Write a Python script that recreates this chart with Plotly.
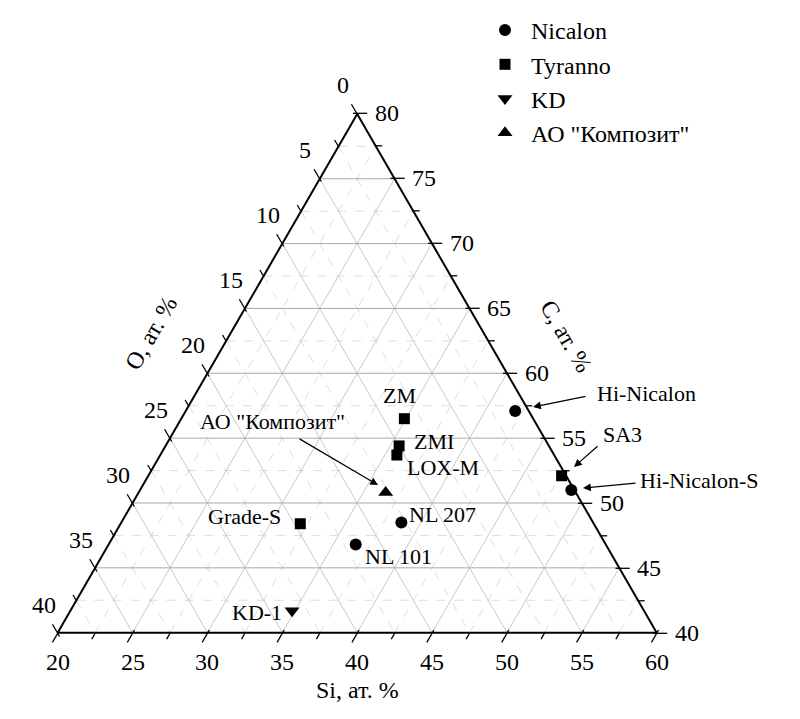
import plotly.graph_objects as go

# ---------------- data (at.%) ----------------
nicalon_names = ["Hi-Nicalon", "Hi-Nicalon-S", "NL 207", "NL 101"]
nicalon_C = [57.1, 51.0, 48.5, 46.8]
nicalon_Si = [42.0, 48.8, 38.7, 36.5]
nicalon_O = [0.9, 0.2, 12.8, 16.7]

tyranno_names = ["ZM", "ZMI", "LOX-M", "SA3", "Grade-S"]
tyranno_C = [56.5, 54.4, 53.7, 52.1, 48.4]
tyranno_Si = [34.9, 35.6, 35.8, 47.6, 32.0]
tyranno_O = [8.6, 10.0, 10.5, 0.3, 19.6]

kd_names = ["KD-1"]
kd_C = [41.7]
kd_Si = [34.8]
kd_O = [23.5]

ao_names = ['АО "Композит"']
ao_C = [50.8]
ao_Si = [36.5]
ao_O = [12.7]

C_ticks = [40, 45, 50, 55, 60, 65, 70, 75, 80]
O_ticks = [0, 5, 10, 15, 20, 25, 30, 35, 40]
Si_ticks = [20, 25, 30, 35, 40, 45, 50, 55, 60]

C_MIN, O_MIN, SI_MIN, SPAN = 40, 0, 20, 40

# ---------------- layout geometry (screen px; page body has an 8px margin) ----------------
OFF = 8
W, H = 800 - OFF, 719 - OFF
FONT = "Liberation Serif"
TOP = (356.7, 113.3)
BL = (57.7, 633.3)
BR = (656.7, 633.3)


def P(x, y):
    """screen px -> paper coords"""
    return (x - OFF) / W, 1 - (y - OFF) / H


def tern_px(C, O, Si):
    """ternary composition -> screen px (same mapping as the ternary subplot)"""
    wt, wb, wr = (C - C_MIN) / SPAN, (O - O_MIN) / SPAN, (Si - SI_MIN) / SPAN
    return (wt * TOP[0] + wb * BL[0] + wr * BR[0], wt * TOP[1] + wb * BL[1] + wr * BR[1])


fig = go.Figure()

# ---------------- grid lines ----------------
def grid_lines(step_vals, families):
    a, b, c = [], [], []
    for v in step_vals:
        if "C" in families:
            C = C_MIN + v
            a += [C, C, None]; c += [SI_MIN, 100 - C, None]; b += [100 - C - SI_MIN, 0, None]
        if "O" in families:
            O = O_MIN + v
            a += [100 - O - SI_MIN, C_MIN, None]; b += [O, O, None]; c += [SI_MIN, 100 - O - C_MIN, None]
        if "Si" in families:
            S = SI_MIN + v
            a += [C_MIN, 100 - S, None]; c += [S, S, None]; b += [100 - S - C_MIN, 0, None]
    return a, b, c

major = [5, 10, 15, 20, 25, 30, 35]
minor = [2.5, 7.5, 12.5, 17.5, 22.5, 27.5, 32.5, 37.5]

for vals, fam, col, dash in [(minor, ("C", "O", "Si"), "#dddddd", "dash"),
                             (major, ("O", "Si"), "#c8c8c8", "solid"),
                             (major, ("C",), "#a8a8a8", "solid")]:
    a, b, c = grid_lines(vals, fam)
    fig.add_trace(go.Scatterternary(a=a, b=b, c=c, mode="lines", showlegend=False, hoverinfo="skip",
                                    line=dict(color=col, width=1, dash=dash)))

# ---------------- data series ----------------
def series(name, names, C, Si, O, symbol, size):
    fig.add_trace(go.Scatterternary(a=C, b=O, c=Si, mode="markers", name="\u00a0" + name, text=names,
                                    legendgroup=name, cliponaxis=False,
                                    marker=dict(symbol=symbol, size=size, color="black")))

series("Nicalon", nicalon_names, nicalon_C, nicalon_Si, nicalon_O, "circle", 12)
series("Tyranno", tyranno_names, tyranno_C, tyranno_Si, tyranno_O, "square", 11)
series("KD", kd_names, kd_C, kd_Si, kd_O, "triangle-down", 13)
series('АО "Композит"', ao_names, ao_C, ao_Si, ao_O, "triangle-up", 13)

# ---------------- tick marks (shapes) & tick labels ----------------
shapes = []
annotations = []
tick_font = dict(family=FONT, size=24, color="black")


def seg(p0, p1):
    x0, y0 = P(*p0)
    x1, y1 = P(*p1)
    shapes.append(dict(type="line", xref="paper", yref="paper", x0=x0, y0=y0, x1=x1, y1=y1,
                       line=dict(color="black", width=1.3)))


for k in range(17):
    v = k * 2.5
    is_major = (k % 2 == 0)
    t_out = 0.7 if is_major else 0.45
    t_in = 0.25 if is_major else 0.0
    C = C_MIN + v     # right edge, horizontal outward
    seg(tern_px(C, t_in, 100 - C - t_in), tern_px(C, -t_out, 100 - C + t_out))
    O = O_MIN + v     # left edge, along constant O outward
    seg(tern_px(100 - O - SI_MIN - t_in, O, SI_MIN + t_in), tern_px(100 - O - SI_MIN + t_out, O, SI_MIN - t_out))
    S = SI_MIN + v    # bottom edge, along constant Si outward
    seg(tern_px(C_MIN + t_in, 100 - S - C_MIN - t_in, S), tern_px(C_MIN - t_out, 100 - S - C_MIN + t_out, S))


def tick_label(text, sx, sy):
    px, py = P(sx, sy)
    annotations.append(dict(x=px, y=py, xref="paper", yref="paper", text=text, showarrow=False,
                            font=tick_font, xanchor="center", yanchor="middle"))


for v in C_ticks:
    sx, sy = tern_px(v, 0, 100 - v)
    tick_label(str(v), sx + 30, sy)
for v in O_ticks:
    sx, sy = tern_px(80 - v, v, 20)
    tick_label(str(v), sx - 14, sy - 28)
for v in Si_ticks:
    sx, sy = tern_px(40, 60 - v, v)
    tick_label(str(v), sx, sy + 29)

# ---------------- point labels, arrows, axis titles ----------------
lab_font = dict(family=FONT, size=22, color="black")
labels = [
    ("ZM", 399, 395), ("ZMI", 434, 441), ("LOX-M", 443, 467), ("NL 207", 443, 515),
    ("NL 101", 398, 556), ("Grade-S", 244.5, 516), ("KD-1", 257, 612),
    ("Hi-Nicalon", 646, 394), ("SA3", 622, 435), ("Hi-Nicalon-S", 699, 480),
    ('АО "Композит"', 272, 421.5),
]
for t, x, y in labels:
    px, py = P(x, y)
    annotations.append(dict(x=px, y=py, xref="paper", yref="paper", text=t, showarrow=False,
                            font=lab_font, xanchor="center", yanchor="middle"))

arrows = [((587, 396), (533, 407)), ((599, 445), (574, 467)),
          ((637, 483), (583, 488)), ((298, 438), (378, 485))]
for (tx, ty), (hx, hy) in arrows:
    px, py = P(hx, hy)
    annotations.append(dict(x=px, y=py, xref="paper", yref="paper", text="", showarrow=True,
                            ax=tx - hx, ay=ty - hy, arrowhead=2, arrowsize=1.3, arrowwidth=1.2,
                            arrowcolor="black"))

title_font = dict(family=FONT, size=24, color="black")
for t, x, y, ang in [("O, ат. %", 151, 333, -60), ("C, ат. %", 566, 336, 60), ("Si, ат. %", 357, 690, 0)]:
    px, py = P(x, y)
    annotations.append(dict(x=px, y=py, xref="paper", yref="paper", text=t, showarrow=False,
                            font=title_font, textangle=ang, xanchor="center", yanchor="middle"))

axis_common = dict(showticklabels=False, ticks="", showgrid=False, showline=True,
                   linecolor="black", linewidth=2, title=dict(text=""))

x0d, y0d = P(BL[0], BL[1])
x1d, y1d = P(BR[0], TOP[1])
fig.update_layout(
    width=W, height=H,
    margin=dict(l=0, r=0, t=0, b=0),
    paper_bgcolor="white",
    font=dict(family=FONT, color="black"),
    ternary=dict(
        sum=100,
        bgcolor="white",
        domain=dict(x=[x0d, x1d], y=[y0d, y1d]),
        aaxis=dict(min=C_MIN, **axis_common),
        baxis=dict(min=O_MIN, **axis_common),
        caxis=dict(min=SI_MIN, **axis_common),
    ),
    legend=dict(x=P(485, 0)[0], y=1.0, xanchor="left", yanchor="top",
                font=dict(family=FONT, size=24), bgcolor="rgba(0,0,0,0)", tracegroupgap=0),
    shapes=shapes,
    annotations=annotations,
)

fig.write_html("out.html")
